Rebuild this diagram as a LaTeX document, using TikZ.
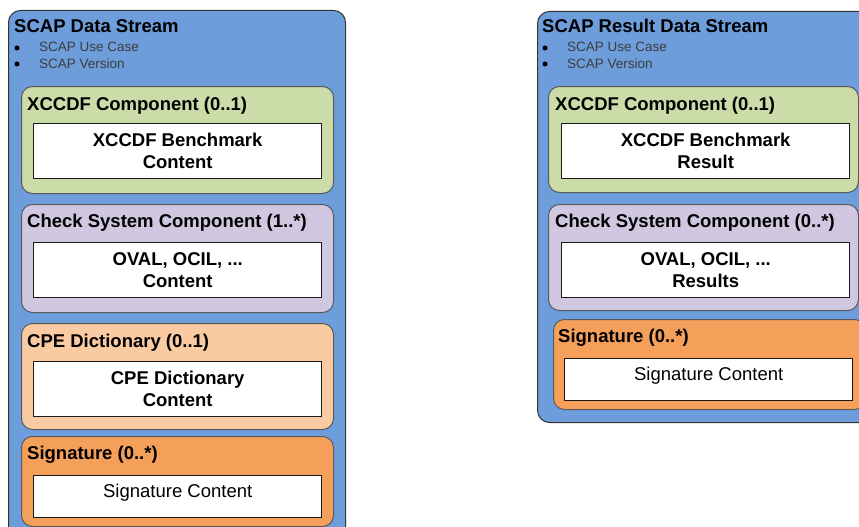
\documentclass[tikz,border=0pt]{standalone}
\usepackage{fontspec}
\setmainfont{Liberation Sans}
\usetikzlibrary{positioning}
\definecolor{streamblue}{RGB}{109,158,219}
\definecolor{xccdfgreen}{RGB}{204,220,168}
\definecolor{checkpurple}{RGB}{208,200,224}
\definecolor{cpepeach}{RGB}{250,203,163}
\definecolor{sigorange}{RGB}{245,160,90}
\definecolor{itemgray}{RGB}{60,60,60}
\newcommand\hdfont{\fontsize{18.5}{22}\selectfont\bfseries}
\newcommand\itfont{\fontsize{13.5}{16}\selectfont}
\tikzset{
  streambox/.style={draw=black!80, fill=streamblue, line width=1pt, rounded corners=12pt, anchor=north west, inner sep=0pt},
  compbox/.style={draw=black!65, line width=1pt, rounded corners=11pt, anchor=north west, inner sep=0pt, minimum height=107pt},
  contentbox/.style={draw=black!90, fill=white, line width=1.4pt, anchor=north west, inner sep=0pt, align=center, minimum width=288pt, minimum height=55pt, font=\hdfont},
  headtext/.style={anchor=base west, inner sep=0pt, font=\hdfont},
  itemtext/.style={anchor=base west, inner sep=0pt, font=\itfont, text=itemgray},
  dot/.style={circle, fill=black, inner sep=0pt, minimum size=5pt}
}
\begin{document}
\begin{tikzpicture}[x=1pt,y=-1pt]
\useasboundingbox (0,0) rectangle (859,527);
\clip (0,0) rectangle (859,527);
% left stream
  \node[streambox, minimum width=337pt, minimum height=545pt] (lstream) at (8,10) {};
  \node[headtext] (lname) at (14,33) {SCAP Data Stream};
  \node[dot] (ldota) at (17,48) {};
  \node[dot] (ldotb) at (17,64) {};
  \node[itemtext] (lusecase) at (39,52) {SCAP Use Case};
  \node[itemtext] (lversion) at (39,68) {SCAP Version};
  \node[compbox, fill=xccdfgreen, minimum width=312pt] (lxccdf) at (21,86) {};
  \node[compbox, fill=checkpurple, minimum width=312pt, minimum height=108pt] (lcheck) at (21,204) {};
  \node[compbox, fill=cpepeach, minimum width=312pt, minimum height=106pt] (lcpe) at (21,323) {};
  \node[compbox, fill=sigorange, minimum width=312pt, minimum height=90pt] (lsig) at (21,436) {};
  \node[headtext] (lxccdfname) at (27,110) {XCCDF Component (0..1)};
  \node[headtext] (lcheckname) at (27,227) {Check System Component (1..*)};
  \node[headtext] (lcpename) at (27,347) {CPE Dictionary (0..1)};
  \node[headtext] (lsigname) at (27,459) {Signature (0..*)};
  \node[contentbox] (lxccdfbody) at (33,123) {XCCDF Benchmark\\Content};
  \node[contentbox] (lcheckbody) at (33,242) {OVAL, OCIL, ...\\Content};
  \node[contentbox] (lcpebody) at (33,361) {CPE Dictionary\\Content};
  \node[contentbox, minimum height=42pt, font=\fontsize{18.5}{22}\selectfont] (lsigbody) at (33,475) {\raisebox{4pt}[\height][\depth]{Signature Content}};
% right stream
  \node[streambox, minimum width=340pt, minimum height=411pt] (rstream) at (537,11) {};
  \node[headtext] (rname) at (542,33) {SCAP Result Data Stream};
  \node[dot] (rdota) at (545,48) {};
  \node[dot] (rdotb) at (545,64) {};
  \node[itemtext] (rusecase) at (567,52) {SCAP Use Case};
  \node[itemtext] (rversion) at (567,68) {SCAP Version};
  \node[compbox, fill=xccdfgreen, minimum width=310pt, minimum height=106pt] (rxccdf) at (548,86) {};
  \node[compbox, fill=checkpurple, minimum width=310pt, minimum height=106pt] (rcheck) at (548,204) {};
  \node[compbox, fill=sigorange, minimum width=312pt, minimum height=90pt] (rsig) at (553,319) {};
  \node[headtext] (rxccdfname) at (555,110) {XCCDF Component (0..1)};
  \node[headtext] (rcheckname) at (555,227) {Check System Component (0..*)};
  \node[headtext] (rsigname) at (558,342) {Signature (0..*)};
  \node[contentbox] (rxccdfbody) at (561,123) {XCCDF Benchmark\\Result};
  \node[contentbox] (rcheckbody) at (561,242) {OVAL, OCIL, ...\\Results};
  \node[contentbox, minimum height=42pt, font=\fontsize{18.5}{22}\selectfont] (rsigbody) at (564,358) {\raisebox{4pt}[\height][\depth]{Signature Content}};
\end{tikzpicture}
\end{document}
